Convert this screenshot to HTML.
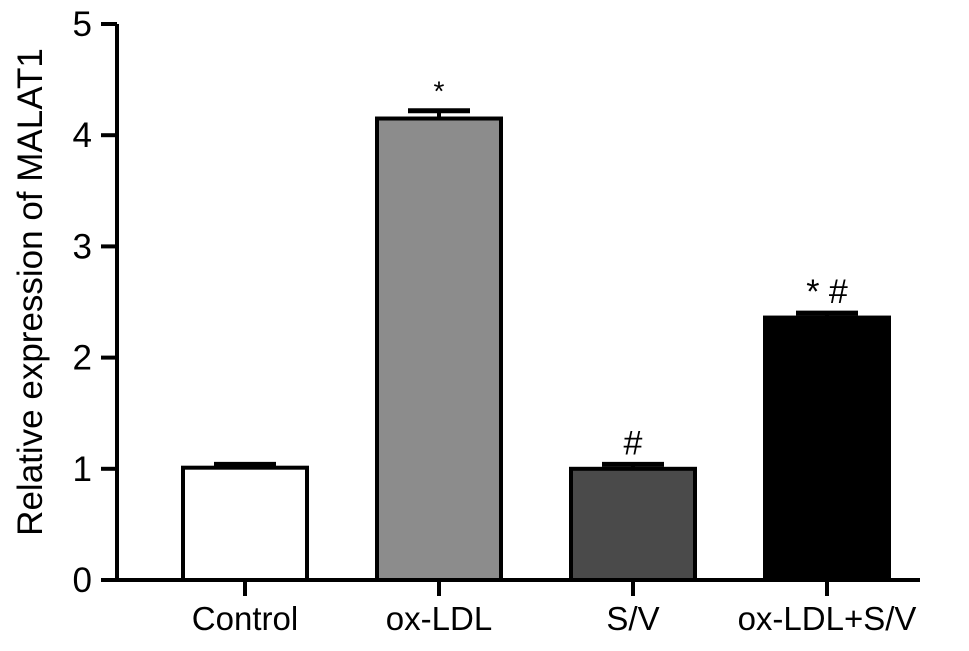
<!DOCTYPE html>
<html><head><meta charset="utf-8"><style>
html,body{margin:0;padding:0;background:#fff;}
svg{display:block;font-family:"Liberation Sans",Arial,sans-serif;}
</style></head><body>
<svg id="chart" width="969" height="651" viewBox="0 0 969 651"></svg>
<script>
const categories = ["Control","ox-LDL","S/V","ox-LDL+S/V"];
const values = [1.01, 4.15, 1.00, 2.36];
const errors = [0.03, 0.07, 0.04, 0.04];
const fills = ["#ffffff","#8c8c8c","#4a4a4a","#000000"];
const marks = ["", "*", "#", "*#"];
const yTicks = [0,1,2,3,4,5];

const svg = document.getElementById('chart');
const NS = 'http://www.w3.org/2000/svg';
const y0 = 580, yPerUnit = 111.2;
const y = v => y0 - v * yPerUnit;
const x = i => 245 + i * 194;
const bw = 128;
function el(tag, attrs, parent){const e=document.createElementNS(NS,tag);for(const k in attrs)e.setAttribute(k,attrs[k]);(parent||svg).appendChild(e);return e;}

const yAxis = el('line',{x1:117,y1:y(5),x2:117,y2:y0+2,stroke:'#000','stroke-width':4});


const xAxis = el('line',{x1:101,y1:y0,x2:920,y2:y0,stroke:'#000','stroke-width':4});



yTicks.forEach(t=>{
  const tk = el('line',{x1:101,y1:y(t),x2:117,y2:y(t),stroke:'#000','stroke-width':4});
  
  
  const lb = el('text',{x:92,y:y(t)+12,'text-anchor':'end','font-size':35,fill:'#000'});
  lb.textContent = t;
  
  
});

categories.forEach((c,i)=>{
  const cx = x(i), top = y(values[i]);
  const eb = el('g',{});
  
  
  el('line',{x1:cx,y1:y(values[i]+errors[i]),x2:cx,y2:top,stroke:'#000','stroke-width':4},eb);
  el('line',{x1:cx-31,y1:y(values[i]+errors[i]),x2:cx+31,y2:y(values[i]+errors[i]),stroke:'#000','stroke-width':5},eb);
  const r = el('rect',{x:cx-bw/2+2,y:top,width:bw-4,height:y0-top,fill:fills[i],stroke:'#000','stroke-width':4});
  
  
  const tk = el('line',{x1:cx,y1:y0,x2:cx,y2:y0+16,stroke:'#000','stroke-width':4});
  
  
  const lb = el('text',{x:cx,y:630,'text-anchor':'middle','font-size':33,fill:'#000'});
  lb.textContent = c;
  
  
  if(marks[i]){
    const m = el('text',{x:cx,y:y(values[i]+errors[i])-10,'text-anchor':'middle','font-size':marks[i]==='*'?28:34,fill:'#000'});
    m.textContent = marks[i].replace('*#','* #');
    
    
  }
});

const yt = el('text',{x:0,y:0,'text-anchor':'middle','font-size':35,fill:'#000',transform:'translate(42,292) rotate(-90)'});
yt.textContent = 'Relative expression of MALAT1';


</script>
</body></html>
